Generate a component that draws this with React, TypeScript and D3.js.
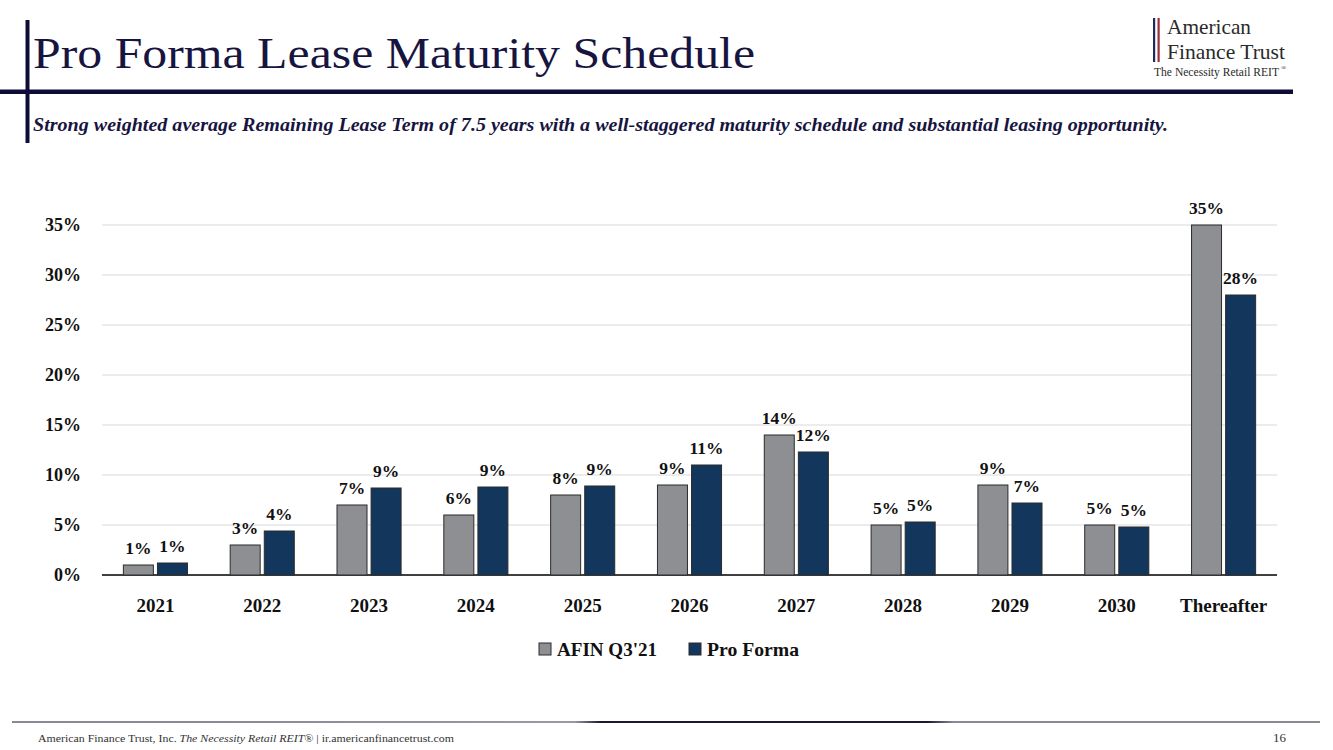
import React from "react";
import * as d3 from "d3";

const categories = ["2021", "2022", "2023", "2024", "2025", "2026", "2027", "2028", "2029", "2030", "Thereafter"];
const afinValues = [1.0, 3.0, 7.0, 6.0, 8.0, 9.0, 14.0, 5.0, 9.0, 5.0, 35.0];
const proFormaValues = [1.2, 4.4, 8.7, 8.8, 8.9, 11.0, 12.3, 5.3, 7.2, 4.8, 28.0];
const afinLabels = ["1%", "3%", "7%", "6%", "8%", "9%", "14%", "5%", "9%", "5%", "35%"];
const proFormaLabels = ["1%", "4%", "9%", "9%", "9%", "11%", "12%", "5%", "7%", "5%", "28%"];
const yTicks = [0, 5, 10, 15, 20, 25, 30, 35];
const seriesNames = ["AFIN Q3'21", "Pro Forma"];
const seriesKeys = ["afin", "pro"];

const W = 1333;
const H = 750;
const SERIF = "'Liberation Serif', 'DejaVu Serif', serif";
const GRAY = "#8e8f93";
const BLUE = "#12365c";
const NAVY = "#17153f";

export default function App() {
  const x0 = d3.scaleBand<string>().domain(categories).range([102, 1277]).paddingInner(0.4).paddingOuter(0.2);
  const x1 = d3.scaleBand<string>().domain(seriesKeys).range([0, x0.bandwidth()]).paddingInner(0.12);
  const y = d3.scaleLinear().domain([0, 35]).range([575, 225]);

  const series = [
    { key: "afin", values: afinValues, labels: afinLabels, color: GRAY },
    { key: "pro", values: proFormaValues, labels: proFormaLabels, color: BLUE },
  ];

  return (
    <svg width={W} height={H} style={{ position: "absolute", left: 0, top: 0, background: "#fff" }}>
      <defs>
        <linearGradient id="footGrad" x1="0" x2="1" y1="0" y2="0">
          <stop offset="0" stopColor="#8a8a94" />
          <stop offset="0.17" stopColor="#8a8a94" />
          <stop offset="0.43" stopColor="#9a9aa4" />
          <stop offset="0.45" stopColor="#1a1a30" />
          <stop offset="0.7" stopColor="#1a1a30" />
          <stop offset="0.72" stopColor="#8a8a94" />
          <stop offset="1" stopColor="#8a8a94" />
        </linearGradient>
      </defs>
      <rect x={0} y={0} width={W} height={H} fill="#fff" />

      {/* Header */}
      <rect x={25.5} y={20} width={4} height={123} fill="#0e0c37" />
      <rect x={0} y={89.5} width={1293} height={4.5} fill="#0e0c37" />
      <text x={33} y={68} fontFamily={SERIF} fontSize={45} fill={NAVY} textLength={722} lengthAdjust="spacingAndGlyphs">
        Pro Forma Lease Maturity Schedule
      </text>
      <text x={33} y={131} fontFamily={SERIF} fontSize={19.5} fontWeight="bold" fontStyle="italic" fill={NAVY} textLength={1135} lengthAdjust="spacingAndGlyphs">
        Strong weighted average Remaining Lease Term of 7.5 years with a well-staggered maturity schedule and substantial leasing opportunity.
      </text>

      {/* Logo */}
      <rect x={1153} y={18} width={2.2} height={44} fill="#1d2a5a" />
      <rect x={1157.5} y={18} width={2.2} height={44} fill="#9b2f3a" />
      <text x={1167} y={34} fontFamily={SERIF} fontSize={21} fill="#2a2a2a" textLength={84} lengthAdjust="spacingAndGlyphs">American</text>
      <text x={1167} y={59} fontFamily={SERIF} fontSize={21} fill="#2a2a2a" textLength={118} lengthAdjust="spacingAndGlyphs">Finance Trust</text>
      <text x={1154} y={76} fontFamily={SERIF} fontSize={12} fill="#2a2a2a" textLength={125} lengthAdjust="spacingAndGlyphs">The Necessity Retail REIT</text>
      <text x={1281} y={70} fontFamily={SERIF} fontSize={7} fill="#2a2a2a">®</text>

      {/* Gridlines */}
      {yTicks.map((t) => (
        <line key={"g" + t} x1={102} x2={1277} y1={y(t)} y2={y(t)} stroke={t === 0 ? "#000" : "#d9d9d9"} strokeWidth={t === 0 ? 1.5 : 1} />
      ))}
      {yTicks.map((t) => (
        <text key={"yl" + t} x={81} y={y(t)} dy="0.35em" textAnchor="end" fontFamily={SERIF} fontSize={18} fontWeight="bold" fill="#111">
          {t + "%"}
        </text>
      ))}

      {/* Bars */}
      {categories.map((c, i) => (
        <g key={c} transform={`translate(${x0(c)},0)`}>
          {series.map((s) => (
            <g key={s.key}>
              <rect
                x={x1(s.key)}
                y={y(s.values[i])}
                width={x1.bandwidth()}
                height={y(0) - y(s.values[i])}
                fill={s.color}
                stroke="#2b2b2b"
                strokeWidth={1}
              />
              <text
                x={(x1(s.key) as number) + x1.bandwidth() / 2}
                y={y(s.values[i]) - 11}
                textAnchor="middle"
                fontFamily={SERIF}
                fontSize={17.5}
                fontWeight="bold"
                fill="#111"
              >
                {s.labels[i]}
              </text>
            </g>
          ))}
          <text
            x={x0.bandwidth() / 2}
            y={612}
            textAnchor="middle"
            fontFamily={SERIF}
            fontSize={19}
            fontWeight="bold"
            fill="#111"
          >
            {c}
          </text>
        </g>
      ))}

      {/* Legend */}
      <rect x={539} y={643} width={12} height={12} fill={GRAY} stroke="#2b2b2b" strokeWidth={1} />
      <text x={557} y={655.5} fontFamily={SERIF} fontSize={19} fontWeight="bold" fill="#111" textLength={100} lengthAdjust="spacingAndGlyphs">{seriesNames[0]}</text>
      <rect x={689} y={643} width={12} height={12} fill={BLUE} stroke="#2b2b2b" strokeWidth={1} />
      <text x={707} y={655.5} fontFamily={SERIF} fontSize={19} fontWeight="bold" fill="#111" textLength={92} lengthAdjust="spacingAndGlyphs">{seriesNames[1]}</text>

      {/* Footer */}
      <rect x={12} y={721} width={1308} height={2} fill="url(#footGrad)" />
      <text x={38} y={742} fontFamily={SERIF} fontSize={11} fill="#333" textLength={416} lengthAdjust="spacingAndGlyphs">
        American Finance Trust, Inc.{" "}
        <tspan fontStyle="italic">The Necessity Retail REIT®</tspan> | ir.americanfinancetrust.com
      </text>
      <text x={1286} y={742} textAnchor="end" fontFamily={SERIF} fontSize={13} fill="#333">16</text>
    </svg>
  );
}
